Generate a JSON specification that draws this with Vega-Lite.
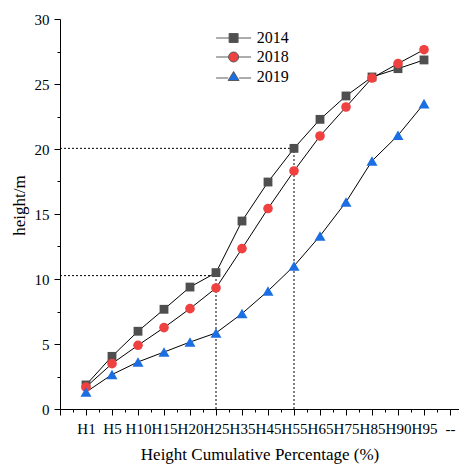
{
  "$schema": "https://vega.github.io/schema/vega-lite/v6.json",
  "autosize": "none",
  "width": 399,
  "height": 390,
  "padding": {"left": 60, "top": 19, "right": 0, "bottom": 55},
  "background": "white",
  "config": {
    "view": {"stroke": null},
    "font": "Liberation Serif",
    "axis": {"grid": false, "domainColor": "black", "tickColor": "black", "labelColor": "black", "titleColor": "black", "labelFont": "Liberation Serif", "titleFont": "Liberation Serif", "titleFontWeight": "normal", "domainWidth": 1, "tickWidth": 1, "labelOverlap": false},
    "legend": {"labelFont": "Liberation Serif", "labelFontSize": 16, "labelColor": "black", "padding": 0, "symbolSize": 100, "symbolStrokeColor": "#5a5a5a", "symbolStrokeWidth": 1, "labelOffset": 15.1, "orient": "none"}
  },
  "datasets": {
    "heights": [
      {"cat": "H1", "i": 1, "year": "2014", "h": 1.85},
      {"cat": "H5", "i": 2, "year": "2014", "h": 4.05},
      {"cat": "H10", "i": 3, "year": "2014", "h": 5.98},
      {"cat": "H15", "i": 4, "year": "2014", "h": 7.67},
      {"cat": "H20", "i": 5, "year": "2014", "h": 9.38},
      {"cat": "H25", "i": 6, "year": "2014", "h": 10.49},
      {"cat": "H35", "i": 7, "year": "2014", "h": 14.46},
      {"cat": "H45", "i": 8, "year": "2014", "h": 17.46},
      {"cat": "H55", "i": 9, "year": "2014", "h": 20.05},
      {"cat": "H65", "i": 10, "year": "2014", "h": 22.28},
      {"cat": "H75", "i": 11, "year": "2014", "h": 24.08},
      {"cat": "H85", "i": 12, "year": "2014", "h": 25.54},
      {"cat": "H90", "i": 13, "year": "2014", "h": 26.18},
      {"cat": "H95", "i": 14, "year": "2014", "h": 26.85},
      {"cat": "H1", "i": 1, "year": "2018", "h": 1.69},
      {"cat": "H5", "i": 2, "year": "2018", "h": 3.49},
      {"cat": "H10", "i": 3, "year": "2018", "h": 4.9},
      {"cat": "H15", "i": 4, "year": "2018", "h": 6.26},
      {"cat": "H20", "i": 5, "year": "2018", "h": 7.72},
      {"cat": "H25", "i": 6, "year": "2018", "h": 9.31},
      {"cat": "H35", "i": 7, "year": "2018", "h": 12.34},
      {"cat": "H45", "i": 8, "year": "2018", "h": 15.42},
      {"cat": "H55", "i": 9, "year": "2018", "h": 18.31},
      {"cat": "H65", "i": 10, "year": "2018", "h": 21.0},
      {"cat": "H75", "i": 11, "year": "2018", "h": 23.23},
      {"cat": "H85", "i": 12, "year": "2018", "h": 25.46},
      {"cat": "H90", "i": 13, "year": "2018", "h": 26.57},
      {"cat": "H95", "i": 14, "year": "2018", "h": 27.64},
      {"cat": "H1", "i": 1, "year": "2019", "h": 1.3},
      {"cat": "H5", "i": 2, "year": "2019", "h": 2.65},
      {"cat": "H10", "i": 3, "year": "2019", "h": 3.62},
      {"cat": "H15", "i": 4, "year": "2019", "h": 4.38},
      {"cat": "H20", "i": 5, "year": "2019", "h": 5.15},
      {"cat": "H25", "i": 6, "year": "2019", "h": 5.85},
      {"cat": "H35", "i": 7, "year": "2019", "h": 7.34},
      {"cat": "H45", "i": 8, "year": "2019", "h": 9.08},
      {"cat": "H55", "i": 9, "year": "2019", "h": 11.0},
      {"cat": "H65", "i": 10, "year": "2019", "h": 13.31},
      {"cat": "H75", "i": 11, "year": "2019", "h": 15.92},
      {"cat": "H85", "i": 12, "year": "2019", "h": 19.08},
      {"cat": "H90", "i": 13, "year": "2019", "h": 21.05},
      {"cat": "H95", "i": 14, "year": "2019", "h": 23.49}
    ],
    "hrefs": [
      {"x": 0, "x2": 9, "y": 20.05},
      {"x": 0, "x2": 6, "y": 10.26}
    ],
    "vrefs": [
      {"x": 9, "y": 0, "y2": 20.05},
      {"x": 6, "y": 0, "y2": 10.26}
    ]
  },
  "resolve": {"axis": {"x": "independent", "y": "independent"}, "scale": {"color": "independent"}, "legend": {"color": "independent"}},
  "layer": [
    {
      "data": {"name": "hrefs"},
      "mark": {"type": "rule", "color": "black", "strokeWidth": 1, "strokeDash": [2, 2]},
      "encoding": {
        "x": {"field": "x", "type": "quantitative", "scale": {"domain": [0, 15.346], "nice": false, "zero": false}, "axis": {
          "orient": "bottom",
          "title": "Height Cumulative Percentage (%)",
          "titleFontSize": 17,
          "titlePadding": 10,
          "values": [0, 1, 2, 3, 4, 5, 6, 7, 8, 9, 10, 11, 12, 13, 14, 15],
          "labelExpr": "['','H1','H5','H10','H15','H20','H25','H35','H45','H55','H65','H75','H85','H90','H95','--'][datum.value]",
          "labelOverlap": false,
          "labelFlush": false,
          "labelFontSize": 15,
          "labelPadding": 6,
          "tickSize": 6
        }},
        "x2": {"field": "x2"},
        "y": {"field": "y", "type": "quantitative", "scale": {"domain": [0, 30], "nice": false}, "axis": {
          "orient": "left",
          "title": "height/m",
          "titleFontSize": 17,
          "titlePadding": 6,
          "titleY": 186,
          "values": [0, 5, 10, 15, 20, 25, 30],
          "labelOverlap": false,
          "labelFlush": false,
          "labelFontSize": 15,
          "labelPadding": 5,
          "tickSize": 6
        }}
      }
    },
    {
      "data": {"name": "vrefs"},
      "mark": {"type": "rule", "color": "black", "strokeWidth": 1, "strokeDash": [2, 2]},
      "encoding": {
        "x": {"field": "x", "type": "quantitative", "axis": {
          "orient": "bottom", "title": null, "labels": false, "domain": false, "tickSize": 3,
          "values": [0.5, 1.5, 2.5, 3.5, 4.5, 5.5, 6.5, 7.5, 8.5, 9.5, 10.5, 11.5, 12.5, 13.5, 14.5]
        }},
        "y": {"field": "y", "type": "quantitative", "axis": {
          "orient": "left", "title": null, "labels": false, "domain": false, "tickSize": 3,
          "values": [2.5, 7.5, 12.5, 17.5, 22.5, 27.5]
        }},
        "y2": {"field": "y2"}
      }
    },
    {
      "data": {"name": "heights"},
      "mark": {"type": "line", "color": "black", "strokeWidth": 1},
      "encoding": {
        "x": {"field": "i", "type": "quantitative", "axis": null},
        "y": {"field": "h", "type": "quantitative", "axis": null},
        "detail": {"field": "year"}
      }
    },
    {
      "data": {"name": "heights"},
      "transform": [{"filter": "datum.year == '2014'"}],
      "mark": {"type": "point", "filled": true, "opacity": 1, "shape": "square", "size": 78},
      "encoding": {
        "x": {"field": "i", "type": "quantitative", "axis": null},
        "y": {"field": "h", "type": "quantitative", "axis": null},
        "color": {"field": "year", "type": "nominal", "scale": {"domain": ["2014"], "range": ["#4f4f4f"]}, "legend": {
          "title": null, "legendX": 165.6, "legendY": 11,
          "symbolType": "M-3.5,0H-0.9M0.9,0H3.5M-0.9,-0.9H0.9V0.9H-0.9Z"
        }}
      }
    },
    {
      "data": {"name": "heights"},
      "transform": [{"filter": "datum.year == '2018'"}],
      "mark": {"type": "point", "filled": true, "opacity": 1, "shape": "circle", "size": 92},
      "encoding": {
        "x": {"field": "i", "type": "quantitative", "axis": null},
        "y": {"field": "h", "type": "quantitative", "axis": null},
        "color": {"field": "year", "type": "nominal", "scale": {"domain": ["2018"], "range": ["#f04141"]}, "legend": {
          "title": null, "legendX": 165.6, "legendY": 30,
          "symbolType": "M-3.5,0H-1M1,0H3.5M-1,0A1,1,0,1,1,1,0A1,1,0,1,1,-1,0Z"
        }}
      }
    },
    {
      "data": {"name": "heights"},
      "transform": [{"filter": "datum.year == '2019'"}],
      "mark": {"type": "point", "filled": true, "opacity": 1, "shape": "triangle-up", "size": 121},
      "encoding": {
        "x": {"field": "i", "type": "quantitative", "axis": null},
        "y": {"field": "h", "type": "quantitative", "axis": null},
        "color": {"field": "year", "type": "nominal", "scale": {"domain": ["2019"], "range": ["#1c6fe3"]}, "legend": {
          "title": null, "legendX": 165.6, "legendY": 49.5,
          "symbolType": "M-3.5,0.3H-1.1M1.1,0.3H3.5M0,-1L1.1,0.8L-1.1,0.8Z"
        }}
      }
    }
  ]
}
